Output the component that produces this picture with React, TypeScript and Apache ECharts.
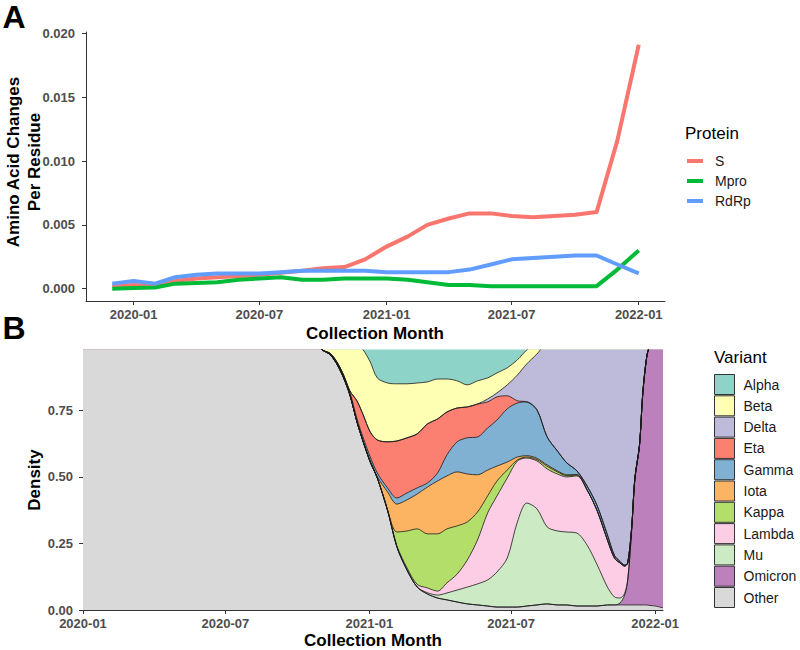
import React, { useEffect, useRef } from 'react';
import * as echarts from 'echarts';

const FONT = '"Liberation Sans", Arial, Helvetica, sans-serif';

// ---------- Panel A data ----------
const monthsA = [
  '2019-12-01', '2020-01-01', '2020-02-01', '2020-03-01', '2020-04-01', '2020-05-01',
  '2020-06-01', '2020-07-01', '2020-08-01', '2020-09-01', '2020-10-01', '2020-11-01',
  '2020-12-01', '2021-01-01', '2021-02-01', '2021-03-01', '2021-04-01', '2021-05-01',
  '2021-06-01', '2021-07-01', '2021-08-01', '2021-09-01', '2021-10-01', '2021-11-01',
  '2021-12-01', '2022-01-01',
];
const sValues = [
  0.0002, 0.0003, 0.0002, 0.0006, 0.0008, 0.0009, 0.0010, 0.0011, 0.00125, 0.0014, 0.0016, 0.0017,
  0.0023, 0.0033, 0.0041, 0.0050, 0.0055, 0.0059, 0.0059, 0.0057, 0.0056, 0.0057, 0.0058, 0.0060,
  0.0116, 0.0191,
];
const mproValues = [
  0.0000, 0.00005, 0.0001, 0.0004, 0.00045, 0.0005, 0.0007, 0.0008, 0.0009, 0.0007, 0.0007, 0.0008,
  0.0008, 0.0008, 0.0007, 0.0005, 0.0003, 0.0003, 0.0002, 0.0002, 0.0002, 0.0002, 0.0002, 0.0002,
  0.0015, 0.0030,
];
const rdrpValues = [
  0.0004, 0.0006, 0.0004, 0.0009, 0.0011, 0.0012, 0.0012, 0.0012, 0.0013, 0.0014, 0.0014, 0.0014,
  0.0014, 0.0013, 0.0013, 0.0013, 0.0013, 0.0015, 0.0019, 0.0023, 0.0024, 0.0025, 0.0026, 0.0026,
  0.0019, 0.0012,
];
const yTicksA = [0, 0.005, 0.01, 0.015, 0.02];
const xTicksA = ['2020-01-01', '2020-07-01', '2021-01-01', '2021-07-01', '2022-01-01'];

// ---------- Panel B data (proportions per date) ----------
const datesB = [
  '2020-01-01', '2020-10-22', '2020-11-03', '2020-11-12', '2020-11-21', '2020-11-29',
  '2020-12-07', '2020-12-16', '2020-12-24', '2021-01-02', '2021-01-11', '2021-01-24',
  '2021-02-05', '2021-02-18', '2021-03-03', '2021-03-16', '2021-03-29', '2021-04-10',
  '2021-04-23', '2021-05-06', '2021-05-19', '2021-06-01', '2021-06-13', '2021-06-26',
  '2021-07-09', '2021-07-21', '2021-08-03', '2021-08-16', '2021-08-29', '2021-09-10',
  '2021-09-23', '2021-10-06', '2021-10-19', '2021-11-01', '2021-11-10', '2021-11-17',
  '2021-11-23', '2021-11-27', '2021-12-02', '2021-12-06', '2021-12-12', '2021-12-16',
  '2021-12-21', '2021-12-25', '2022-01-01', '2022-01-11',
];
const otherVals = [
  1, 1, 0.975, 0.959, 0.921, 0.872, 0.808, 0.707, 0.632, 0.556,
  0.496, 0.376, 0.237, 0.150, 0.086, 0.060, 0.045, 0.038, 0.030, 0.023,
  0.019, 0.015, 0.011, 0.011, 0.011, 0.015, 0.019, 0.023, 0.019, 0.019,
  0.015, 0.015, 0.015, 0.019, 0.019, 0.019, 0.019, 0.019, 0.019, 0.019,
  0.019, 0.019, 0.019, 0.017, 0.015, 0.008,
];
const omicronVals = [
  0, 0, 0, 0, 0, 0, 0, 0, 0, 0,
  0, 0, 0, 0, 0, 0, 0, 0, 0, 0,
  0, 0, 0, 0, 0, 0, 0, 0, 0, 0,
  0, 0, 0, 0, 0, 0.007, 0.037, 0.094, 0.282, 0.470,
  0.601, 0.789, 0.928, 0.973, 0.985, 0.992,
];
const muVals = [
  0, 0, 0, 0, 0, 0, 0, 0, 0, 0,
  0, 0, 0, 0, 0, 0.005, 0.011, 0.026, 0.045, 0.063,
  0.079, 0.098, 0.132, 0.184, 0.320, 0.387, 0.361, 0.289, 0.278, 0.274,
  0.274, 0.229, 0.154, 0.067, 0.030, 0.019, 0.006, 0.003, 0, 0,
  0, 0, 0, 0, 0, 0,
];
const lambdaVals = [
  0, 0, 0, 0, 0, 0, 0, 0, 0, 0,
  0, 0, 0.005, 0.008, 0.010, 0.018, 0.015, 0.038, 0.060, 0.102,
  0.165, 0.252, 0.286, 0.301, 0.229, 0.169, 0.180, 0.218, 0.214, 0.207,
  0.215, 0.207, 0.203, 0.177, 0.146, 0.132, 0.103, 0.061, 0.010, 0.005,
  0, 0, 0, 0, 0, 0,
];
const kappaVals = [
  0, 0, 0, 0, 0, 0, 0, 0, 0, 0,
  0, 0, 0.051, 0.139, 0.209, 0.203, 0.215, 0.203, 0.181, 0.143,
  0.105, 0.064, 0.056, 0.030, 0.004, 0.004, 0.005, 0.010, 0.008, 0.005,
  0.003, 0, 0, 0, 0, 0, 0, 0, 0, 0,
  0, 0, 0, 0, 0, 0,
];
const iotaVals = [
  0, 0, 0, 0, 0, 0, 0, 0, 0, 0.005,
  0.005, 0.068, 0.105, 0.117, 0.131, 0.176, 0.199, 0.199, 0.203, 0.180,
  0.140, 0.097, 0.056, 0.030, 0.011, 0.005, 0.005, 0.005, 0.004, 0.003,
  0.002, 0, 0, 0, 0, 0, 0, 0, 0, 0,
  0, 0, 0, 0, 0, 0,
];
const gammaVals = [
  0, 0, 0, 0.005, 0.008, 0.010, 0.010, 0.012, 0.015, 0.014,
  0.014, 0.015, 0.023, 0.026, 0.023, 0.015, 0.030, 0.079, 0.113, 0.136,
  0.142, 0.158, 0.173, 0.200, 0.203, 0.202, 0.182, 0.105, 0.075, 0.045,
  0.014, 0.015, 0.019, 0.019, 0.010, 0.006, 0.004, 0, 0, 0,
  0, 0, 0, 0, 0, 0,
];
const etaVals = [
  0, 0, 0, 0, 0, 0, 0.005, 0.067, 0.086, 0.094,
  0.124, 0.173, 0.214, 0.207, 0.203, 0.222, 0.203, 0.161, 0.127, 0.116,
  0.124, 0.098, 0.087, 0.049, 0.008, 0, 0, 0, 0, 0,
  0, 0, 0, 0, 0, 0, 0, 0, 0, 0,
  0, 0, 0, 0, 0, 0,
];
const deltaVals = [
  0, 0, 0, 0, 0, 0, 0, 0, 0, 0,
  0, 0, 0, 0, 0, 0, 0, 0, 0, 0,
  0, 0.011, 0.015, 0.041, 0.097, 0.143, 0.210, 0.350, 0.402, 0.447,
  0.477, 0.534, 0.609, 0.718, 0.795, 0.817, 0.831, 0.823, 0.689, 0.506,
  0.380, 0.192, 0.053, 0.010, 0, 0,
];
const betaVals = [
  0, 0, 0.025, 0.036, 0.071, 0.118, 0.177, 0.214, 0.244, 0.263,
  0.233, 0.221, 0.215, 0.203, 0.191, 0.158, 0.150, 0.124, 0.102, 0.083,
  0.087, 0.079, 0.075, 0.064, 0.057, 0.052, 0.038, 0, 0, 0,
  0, 0, 0, 0, 0, 0, 0, 0, 0, 0,
  0, 0, 0, 0, 0, 0,
];
const alphaVals = [
  0, 0, 0, 0, 0, 0, 0, 0, 0.023, 0.068,
  0.128, 0.147, 0.150, 0.150, 0.147, 0.143, 0.132, 0.132, 0.139, 0.154,
  0.139, 0.128, 0.109, 0.090, 0.060, 0.023, 0, 0, 0, 0,
  0, 0, 0, 0, 0, 0, 0, 0, 0, 0,
  0, 0, 0, 0, 0, 0,
];
const variantLegendOrder = ['Alpha', 'Beta', 'Delta', 'Eta', 'Gamma', 'Iota', 'Kappa', 'Lambda', 'Mu', 'Omicron', 'Other'];
const yTicksB = [0, 0.25, 0.5, 0.75];
const xTicksB = ['2020-01-01', '2020-07-01', '2021-01-01', '2021-07-01', '2022-01-01'];

const toTs = (s: string) => {
  const [y, m, d] = s.split('-').map(Number);
  return Date.UTC(y, m - 1, d);
};
const fmtMonth = (v: number) => {
  const d = new Date(v);
  return d.getUTCFullYear() + '-' + String(d.getUTCMonth() + 1).padStart(2, '0');
};

export default function App() {
  const ref = useRef<HTMLDivElement>(null);

  useEffect(() => {
    if (!ref.current) return;
    const chart = echarts.init(ref.current, undefined, { renderer: 'svg' });

    const axisLineStyle = { color: '#333333', width: 1 };
    const tickLabel = { fontFamily: FONT, fontSize: 13, fontWeight: 'bold' as const, color: '#4D4D4D' };

    const proteinSeries = [
      { name: 'S', values: sValues, color: '#F8766D' },
      { name: 'Mpro', values: mproValues, color: '#00BA38' },
      { name: 'RdRp', values: rdrpValues, color: '#619CFF' },
    ].map((p) => ({
      name: p.name,
      type: 'line',
      xAxisIndex: 0,
      yAxisIndex: 0,
      data: monthsA.map((m, i) => [toTs(m), p.values[i]]),
      symbol: 'none',
      color: p.color,
      itemStyle: { color: p.color },
      lineStyle: { width: 4, color: p.color, join: 'round' },
    }));

    // stacking order bottom -> top (position = "fill")
    const variants = [
      { name: 'Other', values: otherVals, color: '#D9D9D9' },
      { name: 'Omicron', values: omicronVals, color: '#BC80BD' },
      { name: 'Mu', values: muVals, color: '#CCEBC5' },
      { name: 'Lambda', values: lambdaVals, color: '#FCCDE5' },
      { name: 'Kappa', values: kappaVals, color: '#B3DE69' },
      { name: 'Iota', values: iotaVals, color: '#FDB462' },
      { name: 'Gamma', values: gammaVals, color: '#80B1D3' },
      { name: 'Eta', values: etaVals, color: '#FB8072' },
      { name: 'Delta', values: deltaVals, color: '#BEBADA' },
      { name: 'Beta', values: betaVals, color: '#FFFFB3' },
      { name: 'Alpha', values: alphaVals, color: '#8DD3C7' },
    ];
    // cumulative tops of each layer
    const running = datesB.map(() => 0);
    const cumulative = variants.map((v) => {
      const tops = v.values.map((val, i) => {
        running[i] += val;
        return running[i];
      });
      return { ...v, tops };
    });
    // draw top layer first so lower layers paint over the remainder
    const variantSeries = cumulative.slice().reverse().map((v) => ({
      name: v.name,
      type: 'line',
      xAxisIndex: 1,
      yAxisIndex: 1,
      data: datesB.map((d, i) => [toTs(d), v.tops[i]]),
      smooth: 0.3,
      symbol: 'none',
      color: v.color,
      itemStyle: { color: v.color },
      lineStyle: { color: '#1a1a1a', width: 0.8 },
      areaStyle: { color: v.color, opacity: 1, origin: 'start' },
    }));

    const option: any = {
      animation: false,
      backgroundColor: '#ffffff',
      grid: [
        { left: 86, width: 579, top: 32, height: 269 },
        { left: 83, width: 580, top: 350, height: 260 },
      ],
      xAxis: [
        {
          type: 'value',
          gridIndex: 0,
          min: toTs('2019-10-24'),
          max: toTs('2022-02-08'),
          axisLine: { show: true, onZero: false, lineStyle: axisLineStyle },
          axisTick: { show: true, length: 4, lineStyle: axisLineStyle, customValues: xTicksA.map(toTs) },
          axisLabel: { ...tickLabel, margin: 7, customValues: xTicksA.map(toTs), formatter: fmtMonth },
          splitLine: { show: false },
        },
        {
          type: 'value',
          gridIndex: 1,
          min: toTs('2020-01-01'),
          max: toTs('2022-01-11'),
          axisLine: { show: true, onZero: false, lineStyle: axisLineStyle },
          axisTick: { show: true, length: 4, lineStyle: axisLineStyle, customValues: xTicksB.map(toTs) },
          axisLabel: { ...tickLabel, margin: 7, customValues: xTicksB.map(toTs), formatter: fmtMonth },
          splitLine: { show: false },
        },
      ],
      yAxis: [
        {
          type: 'value',
          gridIndex: 0,
          min: -0.00096,
          max: 0.0201,
          axisLine: { show: true, onZero: false, lineStyle: axisLineStyle },
          axisTick: { show: true, length: 4, lineStyle: axisLineStyle, customValues: yTicksA },
          axisLabel: { ...tickLabel, margin: 11, customValues: yTicksA, formatter: (v: number) => v.toFixed(3) },
          splitLine: { show: false },
        },
        {
          type: 'value',
          gridIndex: 1,
          min: 0,
          max: 0.977,
          axisLine: { show: true, onZero: false, lineStyle: axisLineStyle },
          axisTick: { show: true, length: 4, lineStyle: axisLineStyle, customValues: yTicksB },
          axisLabel: { ...tickLabel, margin: 10, customValues: yTicksB, formatter: (v: number) => v.toFixed(2) },
          splitLine: { show: false },
        },
      ],
      legend: [
        {
          data: ['S', 'Mpro', 'RdRp'],
          orient: 'vertical',
          left: 687,
          top: 154,
          padding: 0,
          itemWidth: 16,
          itemHeight: 4,
          itemGap: 6,
          icon: 'rect',
          selectedMode: false,
          itemStyle: { borderWidth: 0 },
          textStyle: { fontFamily: FONT, fontSize: 14, color: '#1a1a1a', padding: [0, 0, 0, 7] },
        },
        {
          data: variantLegendOrder,
          orient: 'vertical',
          left: 714,
          top: 374,
          padding: 0,
          itemWidth: 20,
          itemHeight: 20,
          itemGap: 0.3,
          icon: 'rect',
          selectedMode: false,
          itemStyle: { borderColor: '#333333', borderWidth: 1 },
          textStyle: { fontFamily: FONT, fontSize: 14, color: '#1a1a1a', padding: [0, 0, 0, 4] },
        },
      ],
      graphic: [
        { type: 'text', x: 14, y: 17, style: { text: 'A', font: `bold 32px ${FONT}`, fill: '#000', textAlign: 'center', textVerticalAlign: 'middle' } },
        { type: 'text', x: 14, y: 328, style: { text: 'B', font: `bold 32px ${FONT}`, fill: '#000', textAlign: 'center', textVerticalAlign: 'middle' } },
        {
          type: 'text', x: 24, y: 162, rotation: Math.PI / 2,
          style: { text: 'Amino Acid Changes\nPer Residue', font: `bold 17px ${FONT}`, lineHeight: 21, fill: '#000', textAlign: 'center', textVerticalAlign: 'middle' },
        },
        { type: 'text', x: 375, y: 333, style: { text: 'Collection Month', font: `bold 17px ${FONT}`, fill: '#000', textAlign: 'center', textVerticalAlign: 'middle' } },
        { type: 'text', x: 373, y: 640, style: { text: 'Collection Month', font: `bold 17px ${FONT}`, fill: '#000', textAlign: 'center', textVerticalAlign: 'middle' } },
        {
          type: 'text', x: 34, y: 480, rotation: Math.PI / 2,
          style: { text: 'Density', font: `bold 17px ${FONT}`, fill: '#000', textAlign: 'center', textVerticalAlign: 'middle' },
        },
        { type: 'text', x: 685, y: 133, style: { text: 'Protein', font: `17px ${FONT}`, fill: '#000', textAlign: 'left', textVerticalAlign: 'middle' } },
        { type: 'text', x: 714, y: 357, style: { text: 'Variant', font: `17px ${FONT}`, fill: '#000', textAlign: 'left', textVerticalAlign: 'middle' } },
      ],
      series: [...proteinSeries, ...variantSeries],
    };

    chart.setOption(option);
    return () => chart.dispose();
  }, []);

  return <div ref={ref} style={{ position: 'fixed', left: 0, top: 0, width: 800, height: 650 }} />;
}
